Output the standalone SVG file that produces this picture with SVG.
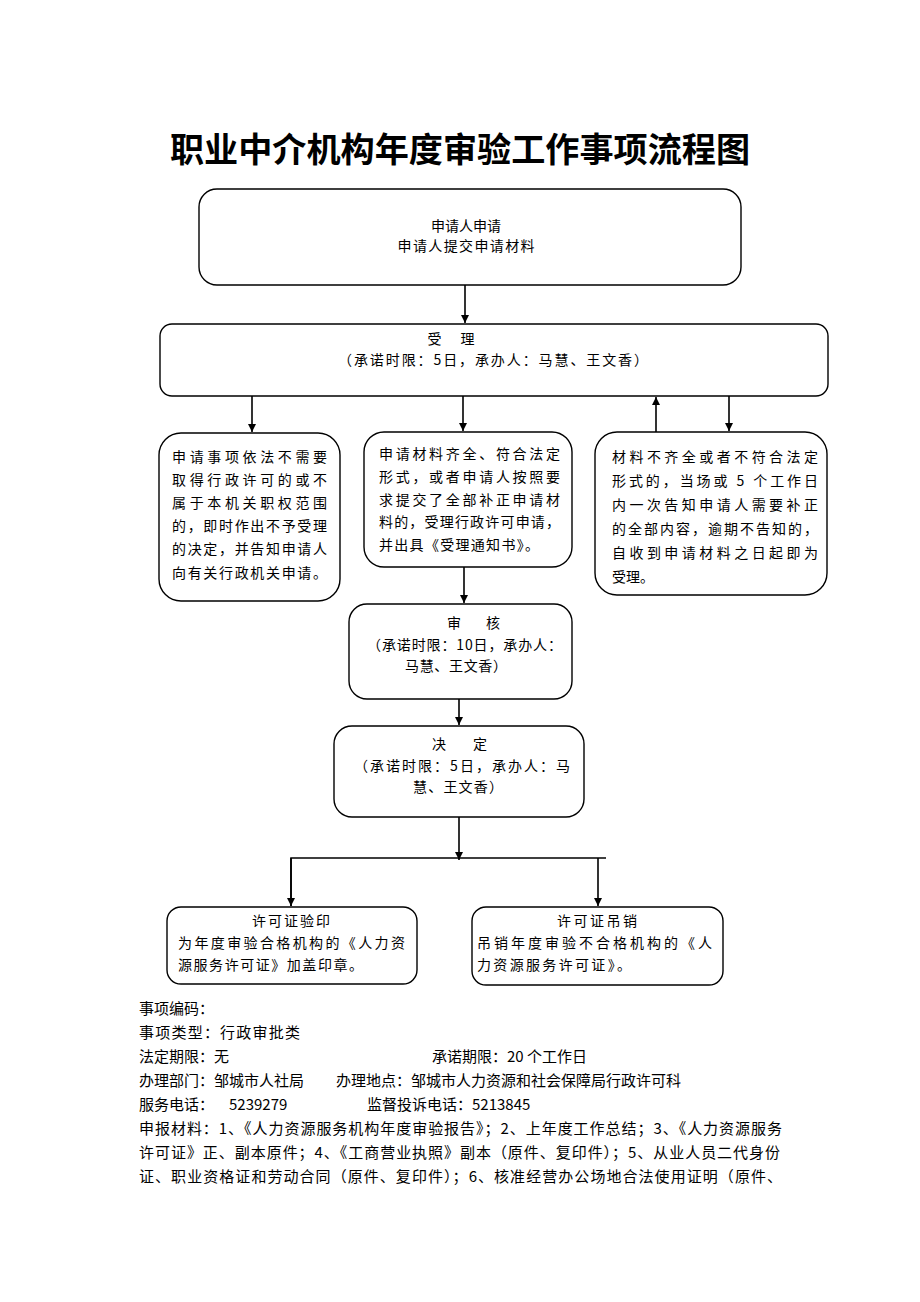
<svg xmlns="http://www.w3.org/2000/svg" width="920" height="1302" viewBox="0 0 920 1302">
<style>
.box{fill:#fff;stroke:#000;stroke-width:1.4}
.t{font-family:"Noto Sans CJK SC","Noto Sans",sans-serif;font-size:14px;fill:#000}
.c{text-anchor:middle}
.f{font-family:"Noto Sans CJK SC","Noto Sans",sans-serif;font-size:15px;fill:#000}
.title{font-family:"Noto Sans CJK SC",sans-serif;font-size:34px;font-weight:bold;fill:#000}
.ln{stroke:#000;stroke-width:1.6;fill:none}
</style>
<defs>
<marker id="ah" viewBox="0 0 10 10" refX="10" refY="5" markerWidth="8" markerHeight="8" markerUnits="userSpaceOnUse" orient="auto">
<path d="M0,0 L10,5 L0,10 z" fill="#000"/>
</marker>
</defs>
<rect width="920" height="1302" fill="#fff"/>
<text class="title" x="170" y="162" textLength="580" lengthAdjust="spacingAndGlyphs">职业中介机构年度审验工作事项流程图</text>

<g id="connectors">
<line class="ln" x1="465" y1="285" x2="465" y2="323" marker-end="url(#ah)"/>
<line class="ln" x1="252" y1="396" x2="252" y2="432" marker-end="url(#ah)"/>
<line class="ln" x1="463" y1="396" x2="463" y2="431" marker-end="url(#ah)"/>
<line class="ln" x1="656" y1="432" x2="656" y2="397" marker-end="url(#ah)"/>
<line class="ln" x1="729" y1="396" x2="729" y2="431" marker-end="url(#ah)"/>
<line class="ln" x1="464" y1="567" x2="464" y2="603" marker-end="url(#ah)"/>
<line class="ln" x1="459" y1="699" x2="459" y2="725" marker-end="url(#ah)"/>
<line class="ln" x1="459" y1="817" x2="459" y2="860" marker-end="url(#ah)"/>
<polyline class="ln" points="291,906 291,858 606,858"/>
<line class="ln" x1="291" y1="858" x2="291" y2="906" marker-end="url(#ah)"/>
<line class="ln" x1="598" y1="858" x2="598" y2="906" marker-end="url(#ah)"/>
</g>

<g id="n-apply">
<rect class="box" x="199" y="189" width="542" height="96" rx="18"/>
<text class="t c" x="466" y="231">申请人申请</text>
<text class="t c" x="466" y="251" textLength="137" lengthAdjust="spacing">申请人提交申请材料</text>
</g>

<g id="n-accept">
<rect class="box" x="160" y="324" width="668" height="72" rx="12"/>
<text class="t c" x="451" y="344" textLength="47" lengthAdjust="spacing">受 理</text>
<text class="t" x="338" y="365" textLength="310" lengthAdjust="spacing">（承诺时限：5日，承办人：马慧、王文香）</text>
</g>

<g id="n-reject">
<rect class="box" x="159" y="433" width="181" height="168" rx="22"/>
<text class="t" x="172" y="462" textLength="155" lengthAdjust="spacing">申请事项依法不需要</text>
<text class="t" x="172" y="485" textLength="155" lengthAdjust="spacing">取得行政许可的或不</text>
<text class="t" x="172" y="508" textLength="155" lengthAdjust="spacing">属于本机关职权范围</text>
<text class="t" x="172" y="531" textLength="155" lengthAdjust="spacing">的，即时作出不予受理</text>
<text class="t" x="172" y="554" textLength="155" lengthAdjust="spacing">的决定，并告知申请人</text>
<text class="t" x="172" y="578" textLength="155" lengthAdjust="spacing">向有关行政机关申请。</text>
</g>

<g id="n-complete">
<rect class="box" x="364" y="432" width="208" height="135" rx="20"/>
<text class="t" x="379" y="459" textLength="181" lengthAdjust="spacing">申请材料齐全、符合法定</text>
<text class="t" x="379" y="482" textLength="181" lengthAdjust="spacing">形式，或者申请人按照要</text>
<text class="t" x="379" y="505" textLength="181" lengthAdjust="spacing">求提交了全部补正申请材</text>
<text class="t" x="379" y="527" textLength="181" lengthAdjust="spacing">料的，受理行政许可申请，</text>
<text class="t" x="379" y="550" textLength="160" lengthAdjust="spacing">并出具《受理通知书》。</text>
</g>

<g id="n-incomplete">
<rect class="box" x="595" y="432" width="232" height="163" rx="22"/>
<text class="t" x="612" y="462" textLength="206" lengthAdjust="spacing">材料不齐全或者不符合法定</text>
<text class="t" x="612" y="486" textLength="206" lengthAdjust="spacing">形式的，当场或 5 个工作日</text>
<text class="t" x="612" y="510" textLength="206" lengthAdjust="spacing">内一次告知申请人需要补正</text>
<text class="t" x="612" y="534" textLength="206" lengthAdjust="spacing">的全部内容，逾期不告知的，</text>
<text class="t" x="612" y="558" textLength="206" lengthAdjust="spacing">自收到申请材料之日起即为</text>
<text class="t" x="612" y="582">受理。</text>
</g>

<g id="n-review">
<rect class="box" x="349" y="604" width="223" height="95" rx="18"/>
<text class="t" x="447" y="628" textLength="53" lengthAdjust="spacing">审 核</text>
<text class="t" x="367" y="650" textLength="195" lengthAdjust="spacing">（承诺时限：10日，承办人：</text>
<text class="t" x="405" y="671" textLength="102" lengthAdjust="spacing">马慧、王文香）</text>
</g>

<g id="n-decide">
<rect class="box" x="334" y="726" width="250" height="91" rx="18"/>
<text class="t" x="432" y="749" textLength="55" lengthAdjust="spacing">决 定</text>
<text class="t" x="354" y="771" textLength="216" lengthAdjust="spacing">（承诺时限：5日，承办人：马</text>
<text class="t" x="413" y="792" textLength="90" lengthAdjust="spacing">慧、王文香）</text>
</g>

<g id="n-stamp">
<rect class="box" x="167" y="907" width="250" height="77" rx="14"/>
<text class="t" x="252" y="926" textLength="78" lengthAdjust="spacing">许可证验印</text>
<text class="t" x="178" y="948" textLength="227" lengthAdjust="spacing">为年度审验合格机构的《人力资</text>
<text class="t" x="178" y="970" textLength="185" lengthAdjust="spacing">源服务许可证》加盖印章。</text>
</g>

<g id="n-revoke">
<rect class="box" x="472" y="907" width="251" height="78" rx="14"/>
<text class="t" x="557" y="926" textLength="80" lengthAdjust="spacing">许可证吊销</text>
<text class="t" x="477" y="948" textLength="235" lengthAdjust="spacing">吊销年度审验不合格机构的《人</text>
<text class="t" x="477" y="970" textLength="154" lengthAdjust="spacing">力资源服务许可证》。</text>
</g>

<g id="footer">
<text class="f" x="139" y="1014">事项编码：</text>
<text class="f" x="139" y="1038" textLength="161" lengthAdjust="spacing">事项类型：行政审批类</text>
<text class="f" x="139" y="1062">法定期限：无</text>
<text class="f" x="432" y="1062">承诺期限：20 个工作日</text>
<text class="f" x="139" y="1086">办理部门：邹城市人社局</text>
<text class="f" x="336" y="1086">办理地点：邹城市人力资源和社会保障局行政许可科</text>
<text class="f" x="139" y="1110">服务电话：</text>
<text class="f" x="229" y="1110">5239279</text>
<text class="f" x="367" y="1110">监督投诉电话：5213845</text>
<text class="f" x="139" y="1134" textLength="643" lengthAdjust="spacing">申报材料：1、《人力资源服务机构年度审验报告》；2、上年度工作总结；3、《人力资源服务</text>
<text class="f" x="139" y="1158" textLength="641" lengthAdjust="spacing">许可证》正、副本原件；4、《工商营业执照》副本（原件、复印件）；5、从业人员二代身份</text>
<text class="f" x="139" y="1182" textLength="643" lengthAdjust="spacing">证、职业资格证和劳动合同（原件、复印件）；6、核准经营办公场地合法使用证明（原件、</text>
</g>
</svg>
